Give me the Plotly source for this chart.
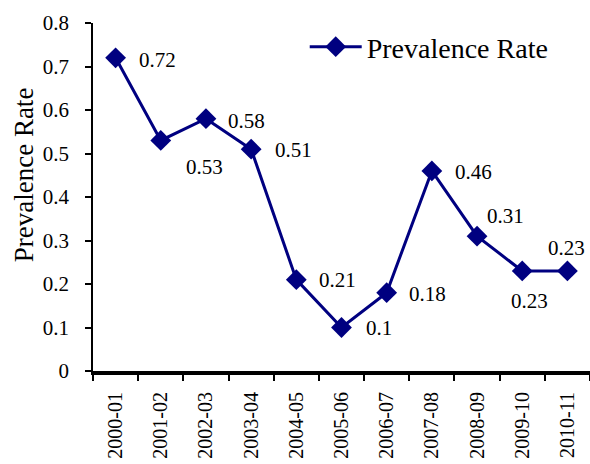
import plotly.graph_objects as go

years = ["2000-01", "2001-02", "2002-03", "2003-04", "2004-05", "2005-06",
         "2006-07", "2007-08", "2008-09", "2009-10", "2010-11"]
prevalence = [0.72, 0.53, 0.58, 0.51, 0.21, 0.1, 0.18, 0.46, 0.31, 0.23, 0.23]
labels = ["0.72", "0.53", "0.58", "0.51", "0.21", "0.1", "0.18", "0.46", "0.31", "0.23", "0.23"]
y_title = "Prevalence Rate"

# label offsets in pixels (style only)
label_dx = [42, 44, 41, 42, 41, 37, 41, 42, 28, 7, -1]
label_dy = [-2, -27, -2, -1, 0, 0, -1, -1, 20, -30, 23]

FONT = "Liberation Serif"
NAVY = "#000080"

fig = go.Figure()
fig.add_trace(go.Scatter(
    x=years, y=prevalence, mode="lines+markers", name="Prevalence Rate",
    line=dict(color=NAVY, width=3),
    marker=dict(symbol="diamond", size=16, color=NAVY),
))

for x, y, t, dx, dy in zip(years, prevalence, labels, label_dx, label_dy):
    fig.add_annotation(x=x, y=y, text=t, showarrow=False, xshift=dx, yshift=dy,
                       font=dict(family=FONT, size=21, color="black"))

# y axis title (placed slightly above the axis centre, as in the reference)
fig.add_annotation(xref="paper", yref="paper", x=-0.139, y=0.565, text=y_title,
                   textangle=-90, showarrow=False, xanchor="center", yanchor="middle",
                   font=dict(family=FONT, size=27, color="black"))

fig.update_layout(
    width=590, height=464,
    margin=dict(l=93, r=0, t=23, b=93, autoexpand=False),
    paper_bgcolor="white", plot_bgcolor="white",
    font=dict(family=FONT, size=21, color="black"),
    showlegend=True,
    legend=dict(x=0.426, y=0.931, xanchor="left", yanchor="middle",
                itemwidth=52,
                font=dict(family=FONT, size=28, color="black"),
                bgcolor="rgba(0,0,0,0)"),
)
fig.update_xaxes(
    type="category", showgrid=False, showline=True, linecolor="black", linewidth=4,
    ticks="outside", tickson="boundaries", ticklen=6, tickwidth=2, tickcolor="black",
    tickangle=-90, tickfont=dict(family=FONT, size=20), range=[-0.5, 10.5],
    ticklabelstandoff=9, automargin=False,
)
fig.update_yaxes(
    range=[0, 0.8], dtick=0.1, showgrid=False, zeroline=False,
    showline=True, linecolor="black", linewidth=1.5,
    ticks="outside", ticklen=6, tickwidth=1.5, tickcolor="black",
    tickfont=dict(family=FONT, size=21), ticklabelstandoff=12, automargin=False,
)

fig.write_html("out.html", config={"displayModeBar": False},
               post_script="document.body.style.margin='0';")
